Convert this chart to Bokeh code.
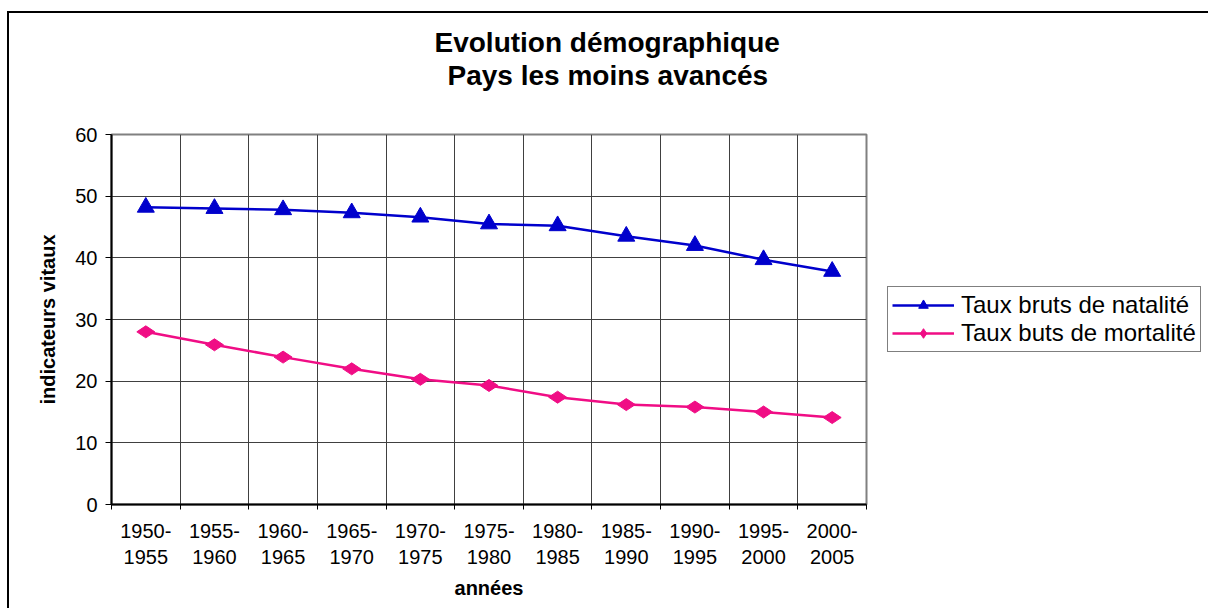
from bokeh.plotting import figure
from bokeh.models import Range1d, FixedTicker, Legend, LegendItem, ColumnDataSource, Title
from bokeh.embed import file_html
from bokeh.resources import INLINE
import math

title_lines = ["Evolution démographique", "Pays les moins avancés"]
periods = ["1950-\n1955", "1955-\n1960", "1960-\n1965", "1965-\n1970", "1970-\n1975",
           "1975-\n1980", "1980-\n1985", "1985-\n1990", "1990-\n1995", "1995-\n2000",
           "2000-\n2005"]
natalite = [48.2, 48.0, 47.8, 47.3, 46.6, 45.5, 45.2, 43.5, 42.0, 39.7, 37.8]
mortalite = [28.0, 25.9, 23.9, 22.0, 20.3, 19.3, 17.4, 16.2, 15.8, 15.0, 14.1]

FONT = "Liberation Sans"
BLUE = "#0000CC"
PINK = "#F00D85"

n = len(periods)
xs = [i + 0.5 for i in range(n)]
src = ColumnDataSource(dict(x=xs, nat=natalite, mort=mortalite))

p = figure(frame_width=755, frame_height=370, output_backend="svg", toolbar_location=None,
           x_range=Range1d(0, n), y_range=Range1d(0, 60),
           min_border_left=102, min_border_right=335, min_border_top=121, min_border_bottom=104)
p.styles = {"border-left": "2px solid black", "border-top": "2px solid black",
            "margin-left": "7px", "margin-top": "11px"}

# two title lines, each centred at the chart's middle (left-aligned + offset)
TSIZE = 28
p.title.text = title_lines[0]
p.title.align = "left"
p.title.offset = 323
p.title.text_font = FONT
p.title.text_font_size = f"{TSIZE}px"
p.title.text_font_style = "bold"
p.title.text_color = "black"
p.title.standoff = 0
# blank spacer between the frame and the title lines
spacer = Title(text=" ", align="left", text_font=FONT, text_font_size=f"{TSIZE}px",
               standoff=11)
p.add_layout(spacer, "above")
t2 = Title(text=title_lines[1], align="left", offset=336, text_font=FONT,
           text_font_size=f"{TSIZE}px", text_font_style="bold", text_color="black",
           standoff=0)
p.add_layout(t2, "above")

p.outline_line_color = "#808080"
p.outline_line_width = 2

# grid
p.xgrid.ticker = FixedTicker(ticks=list(range(n + 1)))
p.xgrid.grid_line_color = "#404040"
p.ygrid.ticker = FixedTicker(ticks=list(range(0, 61, 10)))
p.ygrid.grid_line_color = "#404040"

# x axis
xa = p.xaxis[0]
xa.ticker = FixedTicker(ticks=xs, minor_ticks=list(range(n + 1)))
xa.major_label_overrides = {x: lab for x, lab in zip(xs, periods)}
xa.major_tick_out = 0
xa.major_tick_in = 0
xa.minor_tick_out = 5
xa.minor_tick_in = 0
xa.minor_tick_line_color = "black"
xa.axis_line_color = "black"
xa.axis_line_width = 2
xa.major_label_text_font = FONT
xa.major_label_text_font_size = "20px"
xa.major_label_text_color = "black"
xa.major_label_standoff = 10
xa.axis_label = "années"
xa.axis_label_text_font = FONT
xa.axis_label_text_font_size = "20px"
xa.axis_label_text_font_style = "bold"
xa.axis_label_text_color = "black"
xa.axis_label_standoff = 6

# y axis
ya = p.yaxis[0]
ya.ticker = FixedTicker(ticks=list(range(0, 61, 10)))
ya.major_tick_out = 6
ya.major_tick_in = 0
ya.minor_tick_out = 0
ya.minor_tick_in = 0
ya.major_tick_line_color = "black"
ya.axis_line_color = "black"
ya.axis_line_width = 2
ya.major_label_text_font = FONT
ya.major_label_text_font_size = "20px"
ya.major_label_text_color = "black"
ya.major_label_standoff = 8
ya.axis_label = "indicateurs vitaux"
ya.axis_label_text_font = FONT
ya.axis_label_text_font_size = "20px"
ya.axis_label_text_font_style = "bold"
ya.axis_label_text_color = "black"
ya.axis_label_standoff = 13

l1 = p.line("x", "nat", source=src, line_color=BLUE, line_width=2.5)
m1 = p.scatter("x", "nat", source=src, marker="triangle", size=17,
               fill_color=BLUE, line_color=BLUE)
l2 = p.line("x", "mort", source=src, line_color=PINK, line_width=2.5)
m2 = p.scatter("x", "mort", source=src, marker="diamond", size=18, angle=math.pi / 2,
               fill_color=PINK, line_color=PINK)

legend = Legend(items=[LegendItem(label="Taux bruts de natalité", renderers=[l1, m1]),
                       LegendItem(label="Taux buts de mortalité", renderers=[l2, m2])],
                location="center_left", margin=21, padding=4, spacing=0,
                glyph_width=62, glyph_height=24, label_height=24, label_standoff=7,
                label_text_font=FONT, label_text_font_size="24px",
                label_text_color="black",
                border_line_color="black", border_line_width=1,
                background_fill_alpha=1)
p.add_layout(legend, "right")

open("out.html", "w").write(file_html(p, INLINE))
